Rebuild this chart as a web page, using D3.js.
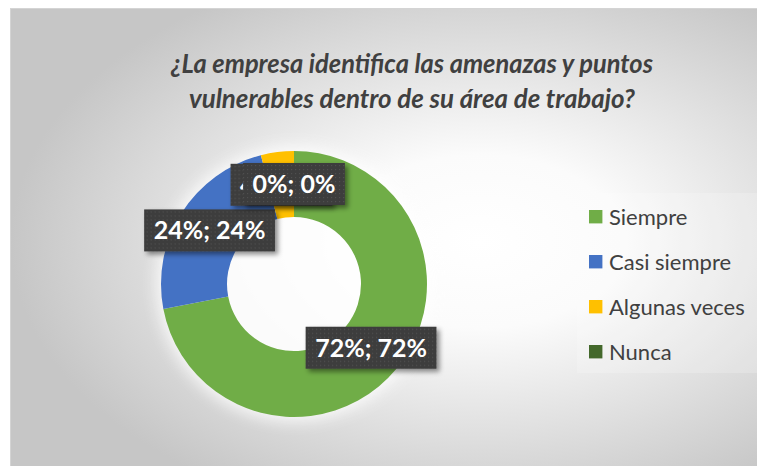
<!DOCTYPE html>
<html>
<head>
<meta charset="utf-8">
<script src="https://cdn.jsdelivr.net/npm/d3@7"></script>
<style>
  body { margin: 0; background: #fff; }
  svg { display: block; }
</style>
</head>
<body>
<div id="chart"></div>
<script>
const categories = ["Siempre", "Casi siempre", "Algunas veces", "Nunca"];
const values = [72, 24, 4, 0];
const colors = ["#70ad47", "#4472c4", "#ffc000", "#43682b"];
const titleLines = ["¿La empresa identifica las amenazas y puntos", "vulnerables dentro de su área de trabajo?"];

const W = 757, H = 466;
const font = "Lato, 'Open Sans', sans-serif";

const svg = d3.select("#chart").append("svg")
    .attr("width", W)
    .attr("height", H);

const defs = svg.append("defs");

// chart area background: radial grey gradient
const grad = defs.append("radialGradient")
    .attr("id", "bg")
    .attr("cx", "0.62").attr("cy", "0.5").attr("r", "0.62");
grad.append("stop").attr("offset", "0").attr("stop-color", "#ffffff");
grad.append("stop").attr("offset", "0.3").attr("stop-color", "#fbfbfb");
grad.append("stop").attr("offset", "1").attr("stop-color", "#c6c6c6");

// label box texture
const pat = defs.append("pattern")
    .attr("id", "dots")
    .attr("patternUnits", "userSpaceOnUse")
    .attr("width", 4).attr("height", 4);
pat.append("rect").attr("width", 4).attr("height", 4).attr("fill", "#3d3d3d");
pat.append("rect").attr("x", 1).attr("y", 1).attr("width", 1.2).attr("height", 1.2).attr("fill", "#505050");

const shadow = defs.append("filter").attr("id", "shadow")
    .attr("x", "-20%").attr("y", "-30%").attr("width", "150%").attr("height", "170%");
shadow.append("feDropShadow")
    .attr("dx", 3).attr("dy", 3).attr("stdDeviation", 2.5)
    .attr("flood-color", "#000").attr("flood-opacity", 0.45);

const glow = defs.append("filter").attr("id", "glow")
    .attr("x", "-30%").attr("y", "-30%").attr("width", "160%").attr("height", "160%");
glow.append("feGaussianBlur").attr("stdDeviation", 8);

svg.append("rect")
    .attr("x", 10.5).attr("y", 8.5)
    .attr("width", W).attr("height", H)
    .attr("fill", "url(#bg)")
    .attr("stroke", "#d4d4d4");

// title
svg.append("g").selectAll("text")
    .data(titleLines)
    .enter().append("text")
    .attr("x", 412)
    .attr("y", (d, i) => 73 + i * 35)
    .attr("text-anchor", "middle")
    .attr("font-family", font)
    .attr("font-size", 26)
    .attr("font-weight", "bold")
    .attr("font-style", "italic")
    .attr("fill", "#404040")
    .attr("textLength", (d, i) => i === 0 ? 482 : 446)
    .attr("lengthAdjust", "spacingAndGlyphs")
    .text(d => d);

// doughnut
const cx = 294, cy = 284, outerR = 133, innerR = 67;
const pie = d3.pie().sort(null).value(d => d);
const arcs = pie(values);
const arc = d3.arc().innerRadius(innerR).outerRadius(outerR);

const g = svg.append("g").attr("transform", `translate(${cx},${cy})`);

g.append("circle")
    .attr("r", outerR + 4)
    .attr("fill", "#fff")
    .attr("opacity", 0.85)
    .attr("filter", "url(#glow)");

g.selectAll(".slice")
    .data(arcs)
    .enter().append("path")
    .attr("class", "slice")
    .attr("d", arc)
    .attr("fill", (d, i) => colors[i]);

// data labels (the 4% and 0% labels sit on top of each other, as in the original)
const total = d3.sum(values);
const fmt = d3.format(".0%");
const labels = g.selectAll(".label")
    .data(arcs)
    .enter().append("g")
    .attr("class", "label")
    .attr("transform", d => `translate(${arc.centroid(d)})`);

labels.each(function(d) {
    const lg = d3.select(this);
    const p = fmt(d.value / total);
    const box = lg.append("rect").attr("fill", "url(#dots)").attr("filter", "url(#shadow)");
    const t = lg.append("text")
        .attr("text-anchor", "middle")
        .attr("y", 9)
        .attr("font-family", font)
        .attr("font-size", 25)
        .attr("font-weight", "bold")
        .attr("fill", "#ffffff")
        .text(`${p}; ${p}`);
    const w = t.node().getComputedTextLength() + 19;
    box.attr("x", -w / 2).attr("y", -21).attr("width", w).attr("height", 42);
});

// legend
svg.append("rect")
    .attr("x", 577).attr("y", 193)
    .attr("width", 200).attr("height", 180)
    .attr("fill", "#fff").attr("opacity", 0.2);

const legend = svg.append("g").selectAll("g")
    .data(categories)
    .enter().append("g")
    .attr("transform", (d, i) => `translate(589,${216.7 + i * 45})`);

legend.append("rect")
    .attr("y", -6.7)
    .attr("width", 13.4).attr("height", 13.4)
    .attr("fill", (d, i) => colors[i]);

legend.append("text")
    .attr("x", 20)
    .attr("y", 7.8)
    .attr("font-family", font)
    .attr("font-size", 22)
    .attr("fill", "#404040")
    .text(d => d);
</script>
</body>
</html>
